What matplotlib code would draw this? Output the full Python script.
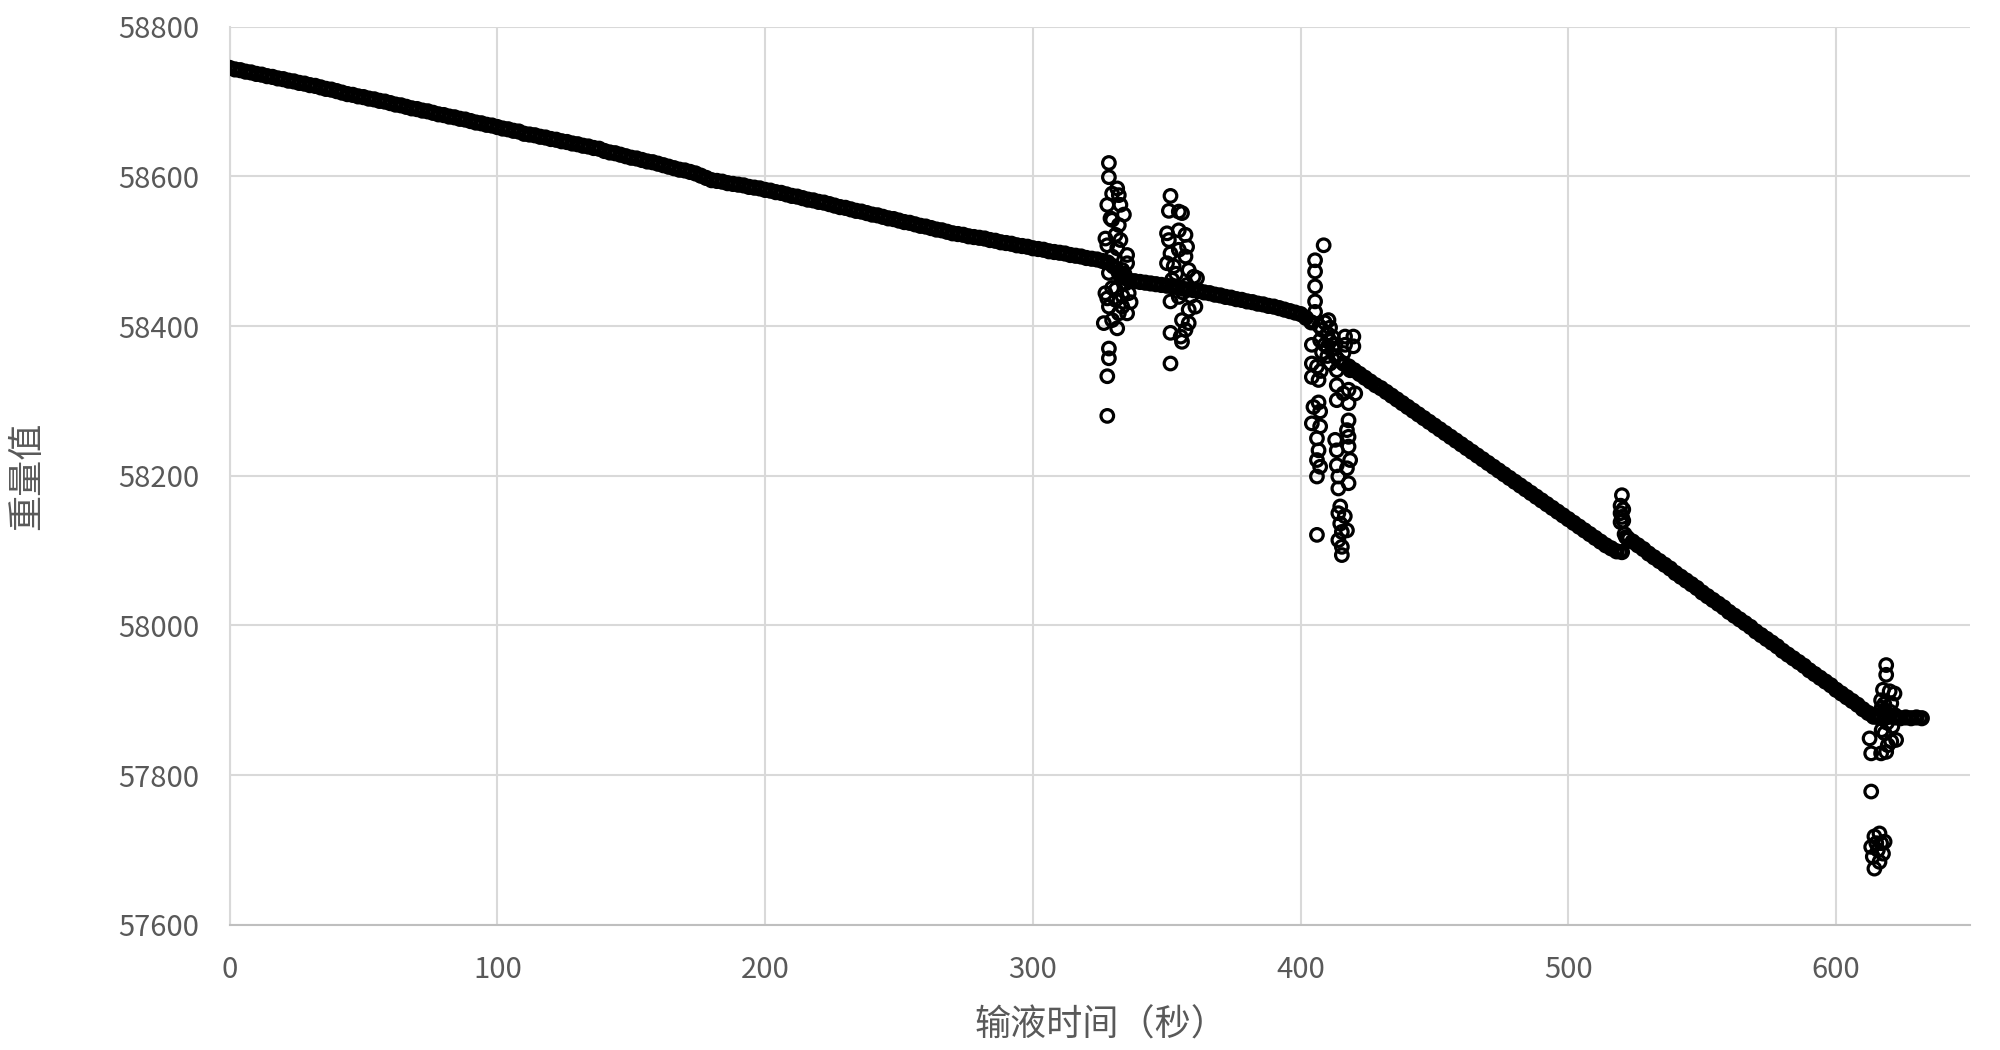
import matplotlib
matplotlib.use("Agg")
import matplotlib.pyplot as plt

plt.rcParams['font.family'] = ['Noto Sans CJK SC', 'DejaVu Sans']

# main trace, sampled every 2 s, one list per stretch between disturbances
seg_start = [0, 328, 416, 522, 616]
seg_a = [58745, 58743, 58742, 58740, 58739, 58737, 58736, 58734, 58733, 58731,
         58730, 58728, 58727, 58725, 58724, 58722, 58721, 58719, 58717, 58716,
         58714, 58712,
         58710, 58709, 58707, 58706, 58704, 58703, 58701, 58700, 58698, 58696,
         58695, 58693, 58691, 58690, 58688, 58687, 58685, 58683, 58682, 58680,
         58679, 58677, 58676, 58674, 58672, 58671, 58669, 58668, 58666, 58664,
         58663, 58661, 58660,
         58657, 58656, 58655, 58653, 58652, 58650, 58649, 58647, 58646, 58644,
         58643, 58641, 58640, 58638, 58637,
         58634, 58632, 58631, 58629, 58627, 58625, 58624, 58622, 58620, 58619,
         58617, 58615, 58613, 58611, 58609, 58608, 58606, 58604, 58601, 58598,
         58595, 58594, 58593, 58591, 58590, 58589, 58588, 58586, 58585, 58584,
         58582, 58581, 58579, 58578, 58576, 58574, 58573, 58571, 58569, 58568,
         58566, 58565, 58563, 58561, 58559, 58558, 58556, 58554, 58553, 58551,
         58549, 58548, 58546, 58544, 58543, 58541, 58539, 58538, 58536, 58534,
         58533, 58531, 58529, 58528, 58526,
         58524, 58523, 58522, 58520, 58519, 58518, 58517, 58515, 58514, 58512,
         58511, 58510, 58508, 58507, 58506, 58504, 58503, 58502, 58500, 58499,
         58498, 58497, 58495, 58494, 58493, 58491, 58490, 58489, 58487]
seg_b = [58485, 58480, 58472, 58465, 58461, 58460, 58459, 58458, 58457, 58456,
         58455, 58454, 58453, 58452, 58450, 58449, 58448, 58447, 58445, 58444,
         58442, 58441, 58439, 58438, 58436, 58435, 58433, 58432, 58430, 58429,
         58427, 58426, 58424, 58422, 58420, 58418, 58416, 58411, 58405]
seg_c = [58350, 58346, 58341, 58336, 58331, 58326, 58321, 58317, 58312, 58307,
         58302, 58297, 58292, 58287, 58282, 58277, 58272, 58267, 58262, 58257,
         58252, 58247, 58242, 58237, 58232, 58227, 58222, 58217, 58212, 58207,
         58202, 58197, 58192, 58187, 58182, 58177, 58172, 58167, 58162, 58157,
         58152, 58147, 58142, 58137, 58132, 58127, 58122, 58117, 58112, 58107,
         58103, 58099, 58098]
seg_d = [58117, 58112, 58107, 58102, 58096, 58091, 58086, 58081, 58076, 58070,
         58065, 58060, 58055, 58050, 58044, 58039, 58034, 58029, 58024, 58018,
         58013, 58008, 58003, 57998, 57992, 57987, 57982, 57977, 57972, 57966,
         57961, 57956, 57951, 57946, 57940, 57935, 57930, 57925, 57920, 57914,
         57909, 57904, 57899, 57894, 57888, 57883, 57878]
seg_e = [57877, 57876, 57878, 57877, 57876, 57877, 57876, 57877, 57876]

# scattered readings during the disturbances
noise_t = [328.4, 328.4, 331.5, 329.6, 332.1, 327.8, 332.7, 334.0, 329.0, 329.6,
           332.1, 327.1, 330.9, 332.7, 327.8, 331.5, 329.6, 335.2, 328.4, 333.4,
           335.2, 332.7, 327.1, 329.6, 331.0, 327.8, 330.9, 328.4, 333.4, 332.1,
           335.2, 326.5, 329.6, 331.5, 328.4, 328.4, 327.8, 327.8,
           334.6, 335.8, 336.5, 333.5, 334.2,
           351.4, 350.8, 354.5, 355.7, 350.1, 354.5, 357.0, 350.8, 357.6, 351.4,
           354.5, 357.0, 350.1, 352.6, 358.2, 360.1, 361.3, 352.0, 351.4, 354.5,
           358.2, 360.7, 355.7, 358.2, 357.0, 351.4, 355.2, 355.7, 351.4,
           356.0, 357.5, 359.0, 353.5,
           408.6, 405.4, 405.4, 405.4, 405.4, 405.4, 410.4, 404.2, 407.3, 404.2,
           406.1, 407.5, 404.2, 406.7, 404.8, 407.3, 406.7, 404.2, 407.3, 406.1,
           406.7, 406.1, 407.3, 406.1, 406.1,
           416.6, 419.7, 416.6, 419.7, 416.0, 413.5, 418.5, 413.5, 417.9, 416.0,
           420.4, 413.5, 417.9, 417.9, 417.3, 412.9, 417.9, 413.5, 417.9, 418.5,
           413.5, 417.3, 414.1, 417.9, 414.1, 414.8, 414.1, 416.5, 414.8, 415.4,
           417.3, 414.1, 415.4, 415.4,
           407.0, 408.0, 409.0, 410.0, 411.0, 412.0, 410.0, 409.0, 411.0, 412.0,
           408.0, 413.0, 413.0, 414.0, 411.0, 410.0,
           520.0, 519.5, 520.5, 519.5, 520.0, 520.5, 519.5, 521.0, 521.5,
           618.7, 618.7, 617.5, 620.0, 621.8, 616.8, 620.6, 618.1,
           617.0, 618.0, 619.0, 620.0, 621.0, 617.0, 622.0, 618.0,
           612.5, 618.1, 620.6, 622.4, 619.3, 613.1, 616.8, 618.7, 613.1,
           614.3, 616.2, 618.1, 613.1, 615.6, 617.5, 613.7, 616.2, 614.3, 616.8,
           615.0]
noise_w = [58618, 58599, 58584, 58577, 58575, 58562, 58562, 58549, 58544, 58542,
           58535, 58517, 58522, 58515, 58508, 58504, 58493, 58495, 58471, 58475,
           58484, 58466, 58444, 58451, 58449, 58437, 58435, 58426, 58426, 58417,
           58417, 58404, 58408, 58397, 58370, 58357, 58333, 58280,
           58457, 58444, 58432, 58440, 58470,
           58574, 58554, 58553, 58551, 58524, 58528, 58522, 58515, 58506, 58497,
           58502, 58493, 58484, 58480, 58475, 58466, 58464, 58462, 58433, 58439,
           58422, 58426, 58408, 58404, 58395, 58391, 58386, 58379, 58350,
           58445, 58455, 58440, 58470,
           58508, 58488, 58473, 58453, 58433, 58419, 58408, 58375, 58381, 58350,
           58346, 58340, 58332, 58328, 58292, 58286, 58298, 58270, 58266, 58250,
           58234, 58221, 58212, 58199, 58121,
           58386, 58386, 58375, 58373, 58364, 58341, 58341, 58321, 58315, 58310,
           58310, 58301, 58297, 58274, 58261, 58248, 58252, 58234, 58239, 58221,
           58214, 58210, 58199, 58190, 58183, 58159, 58150, 58146, 58136, 58125,
           58127, 58114, 58105, 58094,
           58400, 58395, 58405, 58390, 58380, 58370, 58360, 58375, 58398, 58385,
           58365, 58360, 58375, 58355, 58350, 58372,
           58174, 58160, 58155, 58150, 58145, 58140, 58138, 58122, 58118,
           57947, 57934, 57914, 57912, 57909, 57900, 57896, 57887,
           57890, 57880, 57870, 57885, 57865, 57860, 57880, 57895,
           57849, 57856, 57845, 57847, 57840, 57829, 57829, 57831, 57778,
           57718, 57722, 57711, 57704, 57700, 57695, 57691, 57684, 57675, 57709,
           57709]

x_ticks = [0, 100, 200, 300, 400, 500, 600]
y_ticks = [57600, 57800, 58000, 58200, 58400, 58600, 58800]

fig = plt.figure(figsize=(20, 10.5), dpi=100)
ax = fig.add_axes([0.1148, 0.1193, 0.8702, 0.8552])

# dense trace: overlapping circles merge into a solid band
trace = dict(s=62, facecolors='none', edgecolors='black', linewidths=3.8, zorder=3)
for start, w in zip(seg_start, [seg_a, seg_b, seg_c, seg_d, seg_e]):
    t = [start + 2 * i for i in range(len(w))]
    ax.scatter(t, w, **trace)
ax.scatter(noise_t, noise_w, s=82, facecolors='none', edgecolors='black',
           linewidths=2.3, zorder=3)

ax.set_xlim(0, 650)
ax.set_ylim(57600, 58800)
ax.set_xticks(x_ticks)
ax.set_yticks(y_ticks)
ax.grid(True, color='#d9d9d9', linewidth=1.5)
ax.set_axisbelow(True)
for side in ['top', 'right']:
    ax.spines[side].set_visible(False)
ax.spines['left'].set_color('#d9d9d9')
ax.spines['left'].set_linewidth(1.5)
ax.spines['bottom'].set_color('#bfbfbf')
ax.spines['bottom'].set_linewidth(1.5)
ax.tick_params(length=0, labelsize=21, labelcolor='#595959')
ax.tick_params(axis='y', pad=22)
ax.tick_params(axis='x', pad=22)

ax.set_xlabel('输液时间（秒）', fontsize=26, color='#595959')
ax.xaxis.set_label_coords(0.5008, -0.092)
ax.set_ylabel('重量值', fontsize=26, color='#595959')
ax.yaxis.set_label_coords(-0.106, 0.5)

fig.savefig('out.png', dpi=100)
